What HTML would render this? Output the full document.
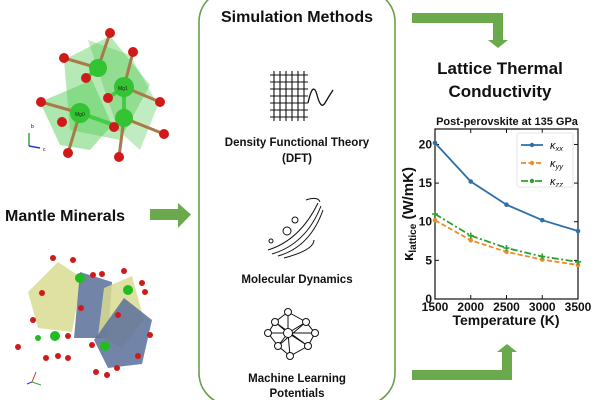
<!DOCTYPE html>
<html><head><meta charset="utf-8"><style>
html,body{margin:0;padding:0;background:#fff;}
body{width:600px;height:400px;overflow:hidden;position:relative;font-family:"Liberation Sans",Arial,sans-serif;}
</style></head><body>
<svg width="600" height="400" viewBox="0 0 600 400" xmlns="http://www.w3.org/2000/svg" font-family="Liberation Sans, Arial, sans-serif">
<g>
  <polygon points="64,60 110,36 150,85 120,140 70,130" fill="#4cc94c" opacity="0.4"/>
  <polygon points="40,102 92,80 112,125 90,150 60,145" fill="#4cc94c" opacity="0.45"/>
  <polygon points="88,40 130,55 158,105 140,150 118,130" fill="#4cc94c" opacity="0.35"/>
  <g stroke="#a87a4a" stroke-width="3">
    <line x1="98" y1="68" x2="64" y2="58"/><line x1="98" y1="68" x2="110" y2="33"/>
    <line x1="124" y1="87" x2="133" y2="52"/><line x1="124" y1="87" x2="160" y2="102"/>
    <line x1="80" y1="113" x2="41" y2="102"/><line x1="80" y1="113" x2="68" y2="153"/>
    <line x1="124" y1="118" x2="164" y2="134"/><line x1="124" y1="118" x2="119" y2="157"/>
  </g>
  <g stroke="#44cc44" stroke-width="4">
    <line x1="98" y1="68" x2="86" y2="78"/><line x1="124" y1="87" x2="108" y2="98"/>
    <line x1="80" y1="113" x2="114" y2="125"/><line x1="124" y1="118" x2="124" y2="87"/>
  </g>
  <g fill="#33c333"><circle cx="98" cy="68" r="9"/><circle cx="124" cy="87" r="10"/><circle cx="80" cy="113" r="10"/><circle cx="124" cy="118" r="9"/></g>
  <g fill="#d01a1a"><circle cx="110" cy="33" r="5"/><circle cx="64" cy="58" r="5"/><circle cx="133" cy="52" r="5"/><circle cx="86" cy="78" r="5"/><circle cx="108" cy="98" r="5"/><circle cx="160" cy="102" r="5"/><circle cx="41" cy="102" r="5"/><circle cx="62" cy="122" r="5"/><circle cx="114" cy="127" r="5"/><circle cx="164" cy="134" r="5"/><circle cx="68" cy="153" r="5"/><circle cx="119" cy="157" r="5"/></g>
  <text x="75" y="116" font-size="5" fill="#222">Mg0</text><text x="118" y="90" font-size="5" fill="#222">Mg1</text>
  <line x1="29" y1="146" x2="29" y2="133" stroke="#3a3" stroke-width="1.5"/><line x1="29" y1="146" x2="40" y2="148" stroke="#33c" stroke-width="1.5"/>
  <text x="31" y="128" font-size="5">b</text><text x="43" y="151" font-size="5">c</text>
</g>
<g>
  <polygon points="28,292 58,262 82,278 72,332 38,328" fill="#d8dc90" opacity="0.85"/>
  <polygon points="80,272 112,282 108,338 74,338" fill="#5a6f9a" opacity="0.85"/>
  <polygon points="104,288 132,276 144,320 122,348 98,336" fill="#d8dc90" opacity="0.85"/>
  <polygon points="124,298 152,320 142,364 108,368 94,340" fill="#5a6f9a" opacity="0.85"/>
  <g fill="#22bb22"><circle cx="80" cy="278" r="5"/><circle cx="55" cy="336" r="5"/><circle cx="128" cy="290" r="5"/><circle cx="105" cy="346" r="5"/><circle cx="38" cy="338" r="3"/></g>
  <g fill="#d01a1a"><circle cx="53" cy="258" r="3"/><circle cx="73" cy="260" r="3"/><circle cx="42" cy="293" r="3"/><circle cx="33" cy="320" r="3"/><circle cx="18" cy="347" r="3"/><circle cx="46" cy="358" r="3"/><circle cx="58" cy="356" r="3"/><circle cx="68" cy="336" r="3"/><circle cx="93" cy="275" r="3"/><circle cx="102" cy="274" r="3"/><circle cx="124" cy="271" r="3"/><circle cx="142" cy="283" r="3"/><circle cx="145" cy="292" r="3"/><circle cx="118" cy="315" r="3"/><circle cx="150" cy="335" r="3"/><circle cx="138" cy="356" r="3"/><circle cx="96" cy="372" r="3"/><circle cx="107" cy="375" r="3"/><circle cx="117" cy="368" r="3"/><circle cx="68" cy="358" r="3"/><circle cx="81" cy="308" r="3"/><circle cx="92" cy="345" r="3"/></g>
  <line x1="32" y1="382" x2="36" y2="372" stroke="#c33" stroke-width="1"/><line x1="32" y1="382" x2="27" y2="384" stroke="#33c" stroke-width="1"/><line x1="32" y1="382" x2="41" y2="385" stroke="#3a3" stroke-width="1"/>
</g>
<text x="5" y="221" font-size="16" font-weight="bold" fill="#111">Mantle Minerals</text>
<polygon points="150,209 178,209 178,203 191,214.5 178,228 178,220 150,220" fill="#6aaa4c"/>
<rect x="199" y="-10" width="196" height="415" rx="32" fill="none" stroke="#6a9f50" stroke-width="1.6"/>
<text x="297" y="22" font-size="16" font-weight="bold" text-anchor="middle" fill="#111">Simulation Methods</text>
<g stroke="#111" stroke-width="1.1" fill="none">
  <path d="M270,75H308M270,82H308M270,89H308M270,96H308M270,103H308M270,110H308M270,117H308M274,71V121M280,71V121M286,71V121M292,71V121M298,71V121M304,71V121"/>
  <path d="M308,103 Q313,80 317,95 T325,103 T333,90" stroke-width="1.3"/>
</g>
<text x="297" y="146" font-size="11.5" font-weight="bold" text-anchor="middle" fill="#111">Density Functional Theory</text>
<text x="297" y="162" font-size="11.5" font-weight="bold" text-anchor="middle" fill="#111">(DFT)</text>
<g stroke="#111" stroke-width="1" fill="none">
  <circle cx="295" cy="220" r="3"/><circle cx="287" cy="231" r="4"/><circle cx="271" cy="241" r="2"/>
  <path d="M268,250 Q300,240 318,203M272,254 Q306,244 321,206M278,256 Q310,247 323,210M284,258 Q314,250 314,240M306,200 Q318,196 320,202"/>
</g>
<text x="297" y="283" font-size="11.5" font-weight="bold" text-anchor="middle" fill="#111">Molecular Dynamics</text>
<g stroke="#111" stroke-width="1" fill="#fff">
  <path d="M288,312 L275,322 L268,333 L278,346 L290,356 L308,346 L315,333 L306,322 L288,312 M275,322 L288,333 L306,322 M268,333 L288,333 L315,333 M278,346 L288,333 L308,346 M290,356 L288,333 M288,312 L288,333 M275,322 L308,346 M306,322 L278,346" fill="none"/>
  <circle cx="288" cy="312" r="3.5"/><circle cx="275" cy="322" r="3.5"/><circle cx="306" cy="322" r="3.5"/><circle cx="268" cy="333" r="3.5"/><circle cx="288" cy="333" r="4.5"/><circle cx="315" cy="333" r="3.5"/><circle cx="278" cy="346" r="3.5"/><circle cx="308" cy="346" r="3.5"/><circle cx="290" cy="356" r="3.5"/>
</g>
<text x="297" y="382" font-size="11.5" font-weight="bold" text-anchor="middle" fill="#111">Machine Learning</text>
<text x="297" y="397" font-size="11.5" font-weight="bold" text-anchor="middle" fill="#111">Potentials</text>
<polygon points="412,13 503,13 503,40 508,40 498,48 488,40 493,40 493,23 412,23" fill="#6aaa4c"/>
<polygon points="412,370 502,370 502,352 497,352 507,344 517,352 512,352 512,380 412,380" fill="#6aaa4c"/>
<text x="500" y="74" font-size="17" font-weight="bold" text-anchor="middle" fill="#111">Lattice Thermal</text>
<text x="500" y="97" font-size="17" font-weight="bold" text-anchor="middle" fill="#111">Conductivity</text>
<g id="chart"></g>
</svg>
<script>
const temps=[1500,2000,2500,3000,3500];
const kxx=[20.2,15.2,12.2,10.2,8.8];
const kyy=[10.2,7.6,6.1,5.1,4.4];
const kzz=[11.0,8.2,6.6,5.5,4.8];
const xTicks=[1500,2000,2500,3000,3500];
const yTicks=[0,5,10,15,20];
const NS='http://www.w3.org/2000/svg';
const g=document.getElementById('chart');
const X0=435,X1=578,Y0=299,YT=129;
const xs=v=>X0+(v-1500)/2000*(X1-X0);
const ys=v=>Y0-v/22*(Y0-YT);
function mk(t,a,p){const e=document.createElementNS(NS,t);for(const k in a)e.setAttribute(k,a[k]);(p||g).appendChild(e);return e;}
const frame=mk('rect',{x:X0,y:YT,width:X1-X0,height:Y0-YT,fill:'none',stroke:'#111','stroke-width':1.2});


xTicks.forEach(v=>{mk('line',{x1:xs(v),x2:xs(v),y1:Y0,y2:Y0-4,stroke:'#111'});mk('line',{x1:xs(v),x2:xs(v),y1:YT,y2:YT+4,stroke:'#111'});
 const t=mk('text',{x:xs(v),y:Y0+12,'font-size':12,'font-weight':'bold','text-anchor':'middle',fill:'#111'});t.textContent=v;
 
 });
yTicks.forEach(v=>{mk('line',{x1:X0,x2:X0+4,y1:ys(v),y2:ys(v),stroke:'#111'});mk('line',{x1:X1,x2:X1-4,y1:ys(v),y2:ys(v),stroke:'#111'});
 const t=mk('text',{x:X0-3,y:ys(v)+4,'font-size':12,'font-weight':'bold','text-anchor':'end',fill:'#111'});t.textContent=v;
 
 });
const tt=mk('text',{x:507,y:125,'font-size':11,'font-weight':'bold','text-anchor':'middle',fill:'#111'});tt.textContent='Post-perovskite at 135 GPa';


const xt=mk('text',{x:506,y:325,'font-size':14,'font-weight':'bold','text-anchor':'middle',fill:'#111'});xt.textContent='Temperature (K)';


const yt=mk('text',{x:0,y:0,'font-size':15,'font-weight':'bold','text-anchor':'middle',fill:'#111',transform:'translate(413,214) rotate(-90)'});
yt.innerHTML='κ<tspan font-size="10" dy="3">lattice</tspan><tspan dy="-3"> (W/mK)</tspan>';


const series=[{d:kxx,c:'#2e6fa8',dash:'',n:'xx'},{d:kyy,c:'#f08a2a',dash:'5,2.5',n:'yy'},{d:kzz,c:'#2ca02c',dash:'7,2.5,2,2.5',n:'zz'}];
series.forEach((s,i)=>{
 const pl=mk('polyline',{points:s.d.map((v,j)=>xs(temps[j])+','+ys(v)).join(' '),fill:'none',stroke:s.c,'stroke-width':1.8,'stroke-dasharray':s.dash});
 
 
 s.d.forEach((v,j)=>{
  let c;
  if(s.n==='zz'){c=mk('path',{d:`M${xs(temps[j])-3},${ys(v)}h6M${xs(temps[j])},${ys(v)-3}v6`,stroke:s.c,'stroke-width':1.6});}
  else{c=mk('circle',{cx:xs(temps[j]),cy:ys(v),r:2.3,fill:s.c});}
  
  });
 const ly=145+i*18;
 mk('line',{x1:521,x2:543,y1:ly,y2:ly,stroke:s.c,'stroke-width':1.8,'stroke-dasharray':s.dash});
 mk('circle',{cx:532,cy:ly,r:2.2,fill:s.c});
 const lt=mk('text',{x:550,y:ly+4,'font-size':11,'font-style':'italic',fill:'#111'});
 lt.innerHTML='κ<tspan font-size="7.5" dy="2">'+s.n+'</tspan>';
 
 
});
const lb=mk('rect',{x:517,y:133,width:56,height:54,fill:'none',stroke:'#ddd','stroke-width':0.8,rx:2});


</script>
</body></html>
